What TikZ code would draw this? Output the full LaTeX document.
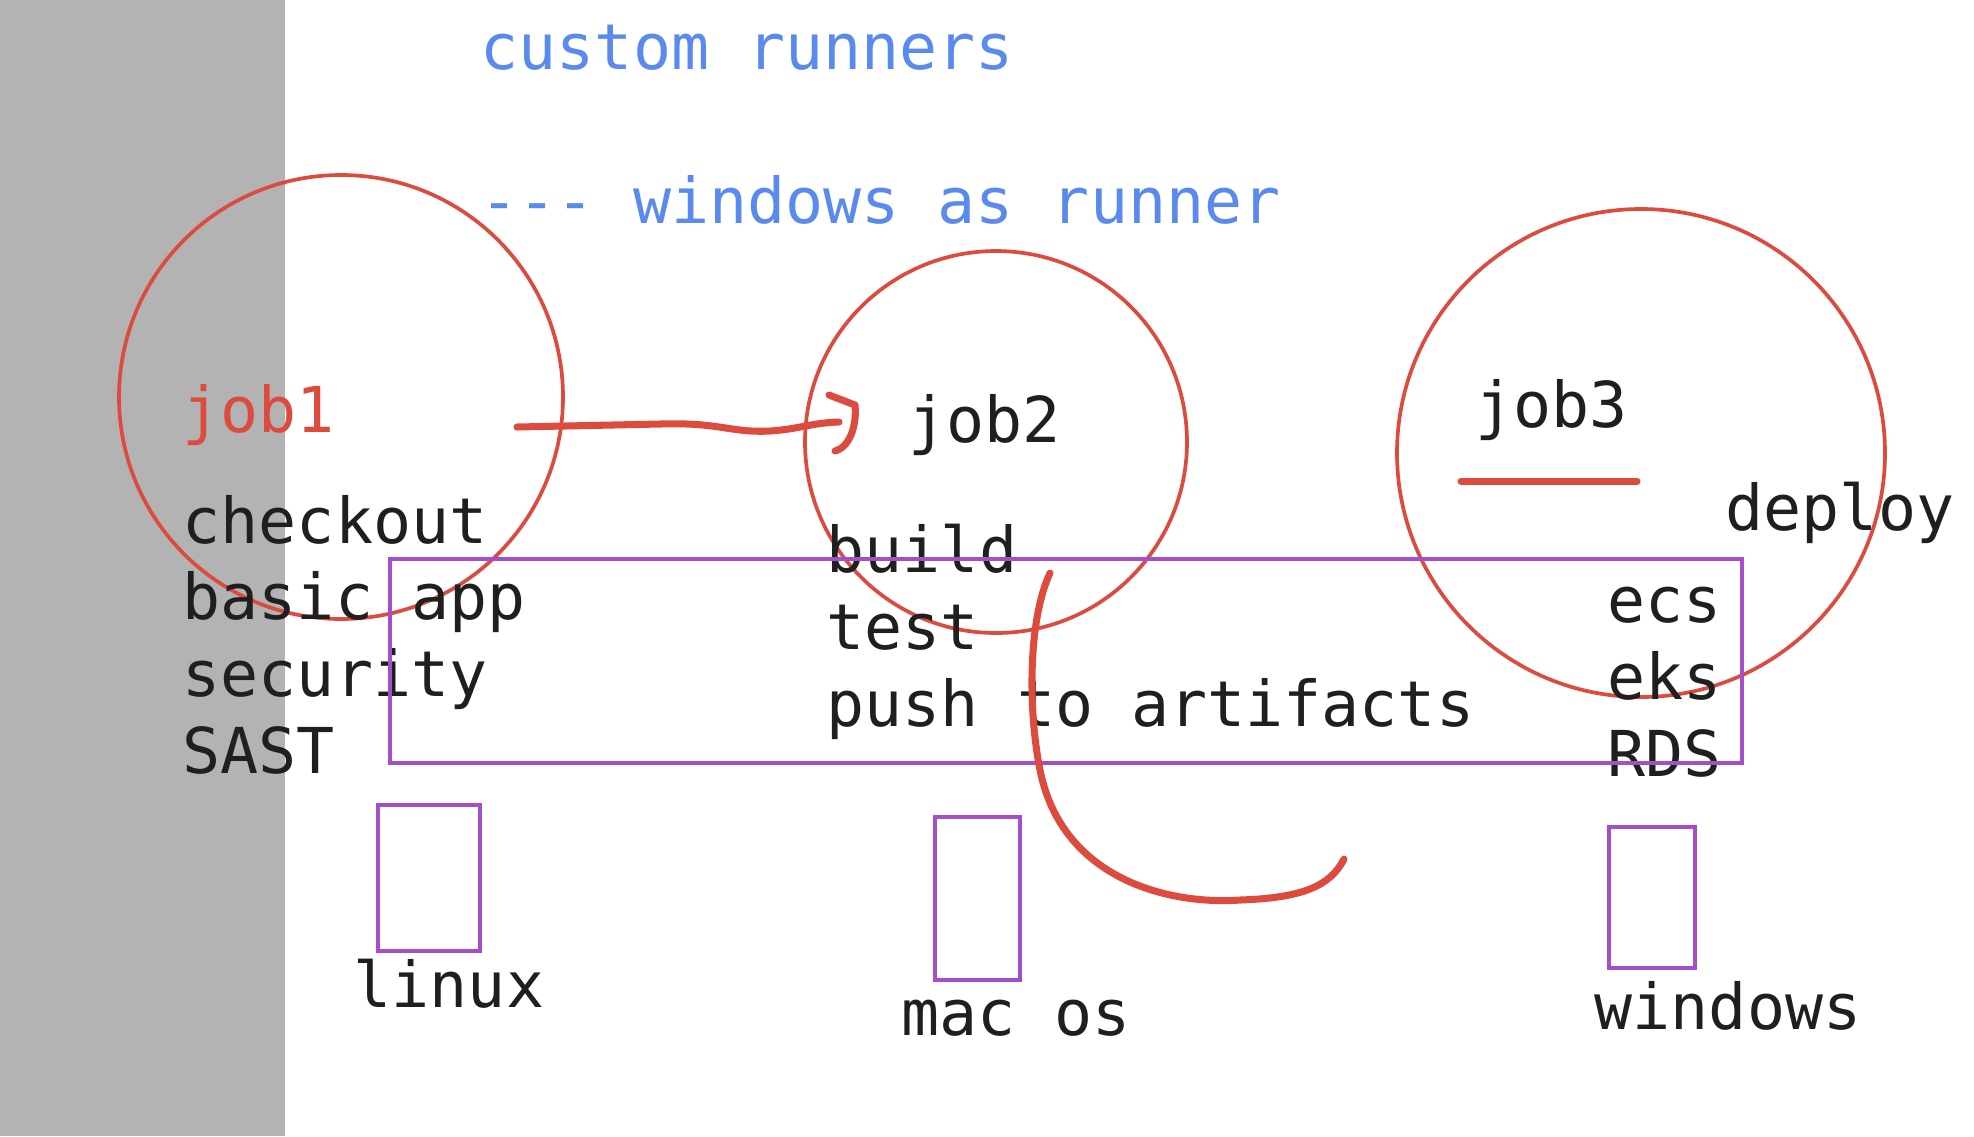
\documentclass[tikz,border=0pt]{standalone}
\usepackage{fontspec}
\setmonofont{DejaVu Sans Mono}
\usetikzlibrary{positioning}

\definecolor{inkred}{HTML}{DD4B3E}
\definecolor{inkblue}{HTML}{5A8AEE}
\definecolor{inkpurple}{HTML}{A44FC9}
\definecolor{inkgray}{HTML}{B3B3B3}
\definecolor{inktext}{HTML}{1F1F1F}

\newcommand{\RunnerBox}[8]{
	\coordinate (#1nw) at (#3,#4);
	\coordinate (#1se) at (#5,#6);
	\draw[runnerline] (#1nw) rectangle (#1se);
	\node[note] (#1label) at (#7,#8) {#2};
}
\newcommand{\JobRing}[4]{
	\node[jobring, minimum size=#4cm] (#1) at (#2,#3) {};
}

\begin{document}
\begin{tikzpicture}[x=1cm,y=-1cm,
	note/.style={font=\fontsize{18pt}{21.8pt}\selectfont\ttfamily, text=inktext,
		anchor=base west, inner sep=0pt, align=left},
	jobring/.style={draw=inkred, line width=1.05pt, circle, inner sep=0pt},
	runnerline/.style={draw=inkpurple, line width=1.15pt},
	scribble/.style={draw=inkred, line width=2pt, line cap=round, line join=round}]
	\useasboundingbox (0,0) rectangle (19.74,11.36);
	\fill[inkgray] (0,0) rectangle (2.85,11.36);

	\node[note, text=inkblue] (title) at (4.80,0.69) {custom runners};
	\node[note, text=inkblue] (subtitle) at (4.80,2.23) {--{}- windows as runner};

	\JobRing{ring1}{3.41}{3.97}{4.44}
	\JobRing{ring2}{9.96}{4.42}{3.82}
	\JobRing{ring3}{16.41}{4.53}{4.88}

	% multi-line notes sit on the baseline of their last line
	\node[note, text=inkred] (job1) at (1.82,4.32) {job1};
	\node[note] (steps1) at (1.82,7.73) {checkout\\basic app\\security\\SAST};
	\node[note] (job2) at (9.08,4.42) {job2};
	\node[note] (steps2) at (8.26,7.26) {build\\test\\push to artifacts};
	\node[note] (job3) at (14.75,4.27) {job3};
	\node[note] (deploy) at (17.25,5.30) {deploy};
	\node[note] (steps3) at (16.07,7.76) {ecs\\eks\\RDS};

	\draw[scribble] (14.61,4.81) -- (16.37,4.81);

	% job1 -> job2
	\coordinate (tail) at (5.17,4.27);
	\coordinate (tip) at (8.39,4.22);
	\draw[scribble] (tail) -- (6.6,4.24) .. controls (7.2,4.22) and (7.3,4.33) .. (7.7,4.31)
		.. controls (8.0,4.29) and (8.1,4.23) .. (tip);
	\draw[scribble] (8.29,3.95) -- (8.55,4.05) .. controls (8.57,4.25) and (8.50,4.47) .. (8.35,4.51);

	\draw[runnerline] (3.90,5.59) rectangle (17.42,7.63);

	% loop
	\coordinate (loopstart) at (10.50,5.73);
	\coordinate (loopend) at (13.44,8.59);
	\draw[scribble] (loopstart) .. controls (10.28,6.2) and (10.28,7.1) .. (10.40,7.7)
		.. controls (10.62,8.8) and (11.7,9.05) .. (12.4,9.0)
		.. controls (13.0,8.98) and (13.3,8.87) .. (loopend);

	\RunnerBox{linux}{linux}{3.78}{8.05}{4.80}{9.51}{3.53}{10.07}
	\RunnerBox{macos}{mac os}{9.35}{8.17}{10.20}{9.80}{9.01}{10.35}
	\RunnerBox{windows}{windows}{16.09}{8.27}{16.95}{9.68}{15.94}{10.29}
\end{tikzpicture}
\end{document}
